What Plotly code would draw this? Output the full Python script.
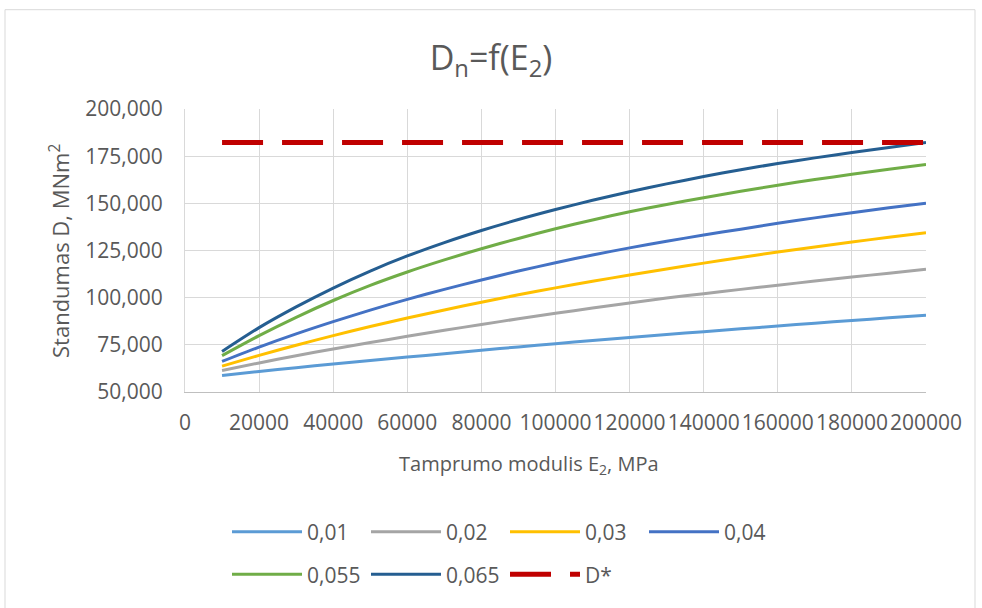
import plotly.graph_objects as go

# Modulus of the second layer, MPa
E2 = [10000, 20000, 30000, 40000, 50000, 60000, 70000, 80000, 90000, 100000,
      110000, 120000, 130000, 140000, 150000, 160000, 170000, 180000, 190000, 200000]

# Stiffness D, MNm^2, for each thickness value
D_001 = [58800, 60900, 62900, 64800, 66700, 68500, 70300, 72100, 73900, 75600,
         77300, 78900, 80500, 82000, 83500, 85000, 86500, 87900, 89300, 90700]
D_002 = [61400, 65400, 69200, 72800, 76200, 79500, 82700, 85800, 88800, 91700,
         94500, 97200, 99800, 102100, 104400, 106600, 108800, 110900, 113000, 115100]
D_003 = [63700, 69400, 74800, 79900, 84700, 89200, 93500, 97600, 101500, 105200,
         108700, 112000, 115200, 118300, 121300, 124200, 126900, 129500, 132000, 134400]
D_004 = [66200, 73800, 80800, 87300, 93400, 99100, 104400, 109400, 114100, 118500,
         122600, 126400, 129900, 133200, 136300, 139400, 142300, 145000, 147600, 150100]
D_0055 = [69300, 79900, 89600, 98500, 106500, 113600, 120000, 125900, 131400, 136500,
          141200, 145500, 149400, 153000, 156400, 159600, 162600, 165400, 168100, 170600]
D_0065 = [71500, 84100, 95100, 105100, 114100, 122100, 129200, 135600, 141400, 146700,
          151600, 156100, 160300, 164200, 167800, 171100, 174100, 176900, 179600, 182200]
D_STAR = 182300

series_names = ["0,01", "0,02", "0,03", "0,04", "0,055", "0,065"]
series_values = [D_001, D_002, D_003, D_004, D_0055, D_0065]
series_colors = ["#5B9BD5", "#A5A5A5", "#FFC000", "#4472C4", "#70AD47", "#255E91"]

W, H = 982, 608
ML, MR, MT, MB = 185, 56, 109, 214
PW, PH = W - ML - MR, H - MT - MB
TXT = "#595959"
FONT = "Open Sans"


def px_x(p):
    return (p - ML) / PW


def px_y(p):
    return (H - MB - p) / PH


fig = go.Figure()
for i, (name, vals, col) in enumerate(zip(series_names, series_values, series_colors)):
    fig.add_trace(go.Scatter(
        x=E2, y=vals, mode="lines", name=name,
        line=dict(color=col, width=3, shape="spline", smoothing=0.8),
        legend="legend" if i < 4 else "legend2",
    ))

fig.add_trace(go.Scatter(
    x=E2, y=[D_STAR] * len(E2), mode="lines", name="D*",
    line=dict(color="#C00000", width=5, dash="41px,19px"),
    legend="legend2",
))

legend_common = dict(
    orientation="h", xanchor="left", yanchor="middle",
    font=dict(family=FONT, size=21, color=TXT),
    itemwidth=70, entrywidth=54, entrywidthmode="pixels",
    bgcolor="rgba(0,0,0,0)", traceorder="normal",
)

fig.update_layout(
    width=W, height=H,
    margin=dict(l=ML, r=MR, t=MT, b=MB),
    paper_bgcolor="white", plot_bgcolor="white",
    font=dict(family=FONT, color=TXT),
    title=dict(
        text="D<sub>n</sub>=f(E<sub>2</sub>)",
        x=0.5, xref="container", xanchor="center",
        y=1 - 58 / H, yref="container", yanchor="middle",
        font=dict(family=FONT, size=34, color=TXT),
    ),
    xaxis=dict(
        range=[0, 200000], tick0=0, dtick=20000, tickformat="d", tickangle=0,
        showgrid=True, gridcolor="#d9d9d9", gridwidth=1,
        zeroline=False, showline=True, linecolor="#bfbfbf", linewidth=1,
        tickfont=dict(family=FONT, size=21, color=TXT),
        ticks="", ticklabelstandoff=12,
    ),
    yaxis=dict(
        range=[50000, 200000], tick0=50000, dtick=25000, tickformat=",d",
        showgrid=True, gridcolor="#d9d9d9", gridwidth=1,
        zeroline=False, showline=True, linecolor="#d9d9d9", linewidth=1,
        tickfont=dict(family=FONT, size=21, color=TXT),
        ticks="", ticklabelstandoff=17,
    ),
    legend=dict(x=px_x(227), y=px_y(535), **legend_common),
    legend2=dict(x=px_x(227), y=px_y(578), **legend_common),
    showlegend=True,
    annotations=[
        dict(text="Tamprumo modulis E<sub>2</sub>, MPa", xref="paper", yref="paper",
             x=px_x(529), y=px_y(467), xanchor="center", yanchor="middle",
             showarrow=False, font=dict(family=FONT, size=20, color=TXT)),
        dict(text="Standumas D, MNm<sup>2</sup>", xref="paper", yref="paper",
             x=px_x(60), y=px_y(252), xanchor="center", yanchor="middle",
             textangle=-90, showarrow=False,
             font=dict(family=FONT, size=22, color=TXT)),
    ],
    shapes=[
        dict(type="rect", xref="paper", yref="paper",
             x0=px_x(5), x1=px_x(975), y0=px_y(640), y1=px_y(9),
             line=dict(color="#d9d9d9", width=1), fillcolor="rgba(0,0,0,0)",
             layer="below"),
    ],
)

fig.write_html("out.html")
